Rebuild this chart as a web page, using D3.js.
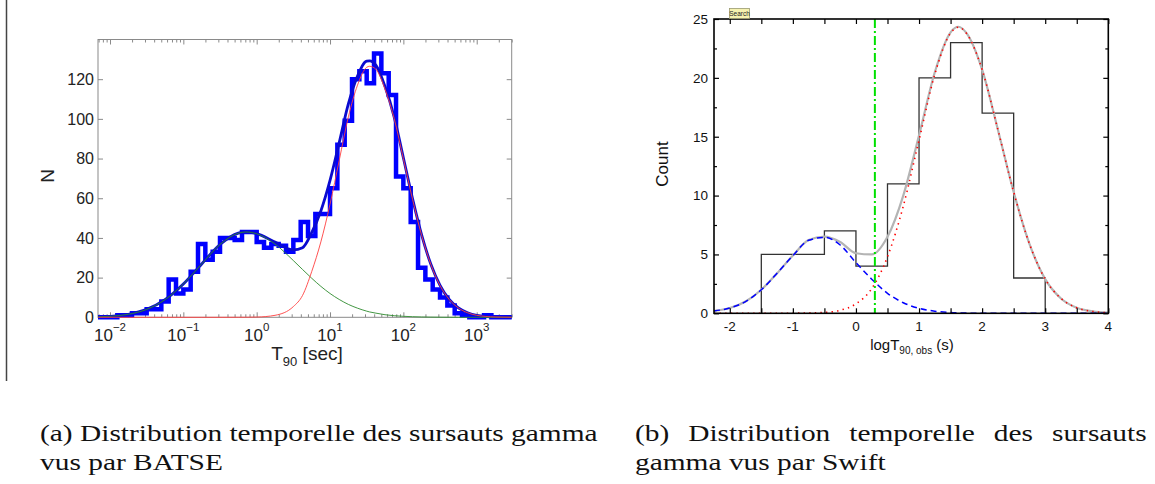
<!DOCTYPE html>
<html><head><meta charset="utf-8">
<script src="https://cdn.jsdelivr.net/npm/d3@7"></script>
<style>body{margin:0;background:#fff}svg{display:block}</style>
</head><body>
<script>
// ---------------- DATA ----------------
// (a) BATSE: histogram in log10(T90) bins of 0.1 dex (lower edges) and counts
const batseLogBins = [-2.2,-2.1,-2.0,-1.9,-1.8,-1.7,-1.6,-1.5,-1.4,-1.3,-1.2,-1.1,-1.0,-0.9,-0.8,-0.7,-0.6,-0.5,-0.4,-0.3,-0.2,-0.1,0.0,0.1,0.2,0.3,0.4,0.5,0.6,0.7,0.8,0.9,1.0,1.1,1.2,1.3,1.4,1.5,1.6,1.7,1.8,1.9,2.0,2.1,2.2,2.3,2.4,2.5,2.6,2.7,2.8,2.9,3.0,3.1,3.2,3.3,3.4];
const batseCounts  = [0,0,0,1,1,2,2,4,4,8,19,12,14,23,37,29,33,40,40,39,43,43,38,35,37,36,33,39,48,41,52,52,65,87,99,120,124,118,133,123,112,71,65,48,25,19,14,10,6,2,1,0,0,1,0,0,0];
// fitted curves, x = log10(T90)
const batseFitLog  = [-2.16,-2.0,-1.75,-1.5,-1.25,-1.0,-0.75,-0.5,-0.25,-0.15,0,0.25,0.5,0.625,0.75,0.875,1.0,1.125,1.25,1.375,1.5,1.54,1.625,1.75,1.875,2.0,2.125,2.25,2.375,2.5,2.625,2.75,2.875,3.0,3.25,3.48];
const batseShort   = [0.24,0.5,1.5,4.0,8.9,16.8,26.9,36.7,42.4,43.0,42.1,36.9,28.6,24.1,19.7,15.6,12.0,9.0,6.5,4.6,3.1,2.7,2.1,1.3,0.8,0.5,0.3,0.17,0.1,0.05,0.02,0,0,0,0,0];
const batseLong    = [0,0,0,0,0,0,0,0,0.02,0.03,0.12,1.0,5.4,11.0,23.0,38.0,57.0,79.0,101.0,117.0,126.0,126.5,125.0,115.0,100.1,79.9,59.5,41.2,26.6,16.0,9.0,4.7,2.3,1.0,0.17,0.02];
const batseTotal   = [0.24,0.5,1.5,4.0,8.9,16.8,26.9,36.7,42.4,43.0,42.2,37.9,34.0,35.1,42.7,53.6,69.0,88.0,107.5,121.6,129.1,129.2,127.1,116.3,100.9,80.4,59.8,41.4,26.7,16.1,9.0,4.7,2.3,1.0,0.17,0.02];
const batseXExponents = [-2,-1,0,1,2,3];
const batseYTicks = [0,20,40,60,80,100,120];

// (b) Swift: histogram of log T90,obs
const swiftBinEdges = [-1.5,-1,-0.5,0,0.5,1,1.5,2,2.5,3];
const swiftCounts   = [5,5,7,4,11,20,23,17,3];
const swiftFitX     = [-2.25,-2,-1.75,-1.5,-1.25,-1,-0.75,-0.5,-0.25,0,0.25,0.5,0.75,1,1.25,1.5,1.625,1.75,2,2.25,2.5,2.75,3,3.25,3.5,3.75,4];
const swiftShort    = [0.2,0.45,1.0,2.0,3.4,4.9,6.2,6.45,5.8,4.3,2.9,1.7,0.9,0.42,0.18,0.07,0.04,0.02,0,0,0,0,0,0,0,0,0];
const swiftLong     = [0,0,0,0,0,0.01,0.03,0.07,0.26,0.8,2.1,4.8,9.1,14.7,20.3,23.8,24.3,23.8,20.7,15.6,10.3,5.9,2.9,1.26,0.47,0.16,0.05];
const swiftTotal    = [0.2,0.45,1.0,2.0,3.4,4.91,6.23,6.52,6.06,5.1,5.0,6.5,10.0,15.12,20.48,23.87,24.34,23.82,20.7,15.6,10.3,5.9,2.9,1.26,0.47,0.16,0.05];
const swiftDivider  = [0.3];
const swiftXTicks   = [-2,-1,0,1,2,3,4];
const swiftYTicks   = [0,5,10,15,20,25];

const captionA = ["(a) Distribution temporelle des sursauts gamma", "vus par BATSE"];
const captionB = ["(b) Distribution temporelle des sursauts", "gamma vus par Swift"];

// ---------------- DRAW ----------------
const W = 1155, H = 484;
const svg = d3.select("body").append("svg").attr("width", W).attr("height", H);
const SANS = "'Liberation Sans', Arial, Helvetica, sans-serif";

// left margin rule
svg.append("line").attr("x1",6.5).attr("x2",6.5).attr("y1",0).attr("y2",381)
  .attr("stroke","#444").attr("stroke-width",1.5);

// ===== Chart (a) =====
const A = {l:98, r:511.7, t:39.5, b:317.3};
const xA = d3.scaleLog().domain([0.006862, 3000]).range([A.l, A.r]);
const yA = d3.scaleLinear().domain([0,140]).range([A.b, A.t]);
const gA = svg.append("g");
svg.append("defs").append("clipPath").attr("id","clipA").append("rect")
  .attr("x",A.l).attr("y",A.t-10).attr("width",A.r-A.l).attr("height",A.b-A.t+16);

const axisCol = "#8a8a8a";
gA.append("rect").attr("x",A.l).attr("y",A.t).attr("width",A.r-A.l).attr("height",A.b-A.t)
  .attr("fill","none").attr("stroke",axisCol).attr("stroke-width",1);

const majorsA = batseXExponents.map(e => Math.pow(10,e));
const minorsA = xA.ticks().filter(v => Math.abs(Math.log10(v) - Math.round(Math.log10(v))) > 1e-6);
function styleAxis(g){ g.select(".domain").remove(); g.selectAll("line").attr("stroke",axisCol); g.selectAll("text").remove(); }
gA.append("g").attr("transform",`translate(0,${A.b})`).call(d3.axisBottom(xA).tickValues(majorsA).tickSize(-5)).call(styleAxis);
gA.append("g").attr("transform",`translate(0,${A.b})`).call(d3.axisBottom(xA).tickValues(minorsA).tickSize(-3)).call(styleAxis);
gA.append("g").attr("transform",`translate(0,${A.t})`).call(d3.axisTop(xA).tickValues(majorsA).tickSize(-5)).call(styleAxis);
gA.append("g").attr("transform",`translate(0,${A.t})`).call(d3.axisTop(xA).tickValues(minorsA).tickSize(-3)).call(styleAxis);
gA.append("g").attr("transform",`translate(${A.l},0)`).call(d3.axisLeft(yA).tickValues(batseYTicks).tickSize(-5)).call(styleAxis);
gA.append("g").attr("transform",`translate(${A.r},0)`).call(d3.axisRight(yA).tickValues(batseYTicks).tickSize(-5)).call(styleAxis);

// y tick labels
gA.append("g").selectAll("text").data(batseYTicks).join("text")
  .attr("x", A.l-4).attr("y", d => yA(d)).attr("dy","0.36em").attr("text-anchor","end")
  .attr("font-family",SANS).attr("font-size",16).attr("fill","#222").text(d => d);
// x tick labels with superscripts
const xl = gA.append("g").selectAll("text").data(batseXExponents).join("text")
  .attr("x", d => xA(Math.pow(10,d))).attr("y", 340.5).attr("text-anchor","middle")
  .attr("font-family",SANS).attr("fill","#222");
xl.append("tspan").attr("font-size",17).text("10");
xl.append("tspan").attr("font-size",11.5).attr("dy",-10).text(d => d < 0 ? "\u2212" + Math.abs(d) : String(d));
// axis titles
const tA = gA.append("text").attr("x",307).attr("y",360).attr("text-anchor","middle")
  .attr("font-family",SANS).attr("font-size",19).attr("fill","#222");
tA.append("tspan").text("T");
tA.append("tspan").attr("font-size",13).attr("dy",6).text("90");
tA.append("tspan").attr("dy",-6).text(" [sec]");
gA.append("text").attr("transform","translate(54,176) rotate(-90)").attr("text-anchor","middle")
  .attr("font-family",SANS).attr("font-size",19).attr("fill","#222").text("N");

// histogram (step outline)
const histA = batseLogBins.map((e,i) => [e, batseCounts[i]]);
histA.push([batseLogBins[batseLogBins.length-1] + (batseLogBins[1]-batseLogBins[0]), batseCounts[batseCounts.length-1]]);
const pA = gA.append("g").attr("clip-path","url(#clipA)");
pA.append("path").datum(histA)
  .attr("d", d3.line().x(d => xA(Math.pow(10,d[0]))).y(d => yA(d[1])).curve(d3.curveStepAfter))
  .attr("fill","none").attr("stroke","#0000ff").attr("stroke-width",4.5).attr("stroke-linejoin","miter");
const lineA = d3.line().x(d => xA(Math.pow(10,d[0]))).y(d => yA(d[1])).curve(d3.curveMonotoneX);
pA.append("path").datum(batseFitLog.map((x,i)=>[x,batseTotal[i]])).attr("d",lineA)
  .attr("fill","none").attr("stroke","#0a0ad0").attr("stroke-width",2.8);
pA.append("path").datum(batseFitLog.map((x,i)=>[x,batseShort[i]])).attr("d",lineA)
  .attr("fill","none").attr("stroke","#2e8b2e").attr("stroke-width",0.9);
pA.append("path").datum(batseFitLog.map((x,i)=>[x,batseLong[i]])).attr("d",lineA)
  .attr("fill","none").attr("stroke","#ff4040").attr("stroke-width",0.9);

// ===== Chart (b) =====
const B = {l:714, r:1108.3, t:19, b:313.3};
const xB = d3.scaleLinear().domain([-2.25,4]).range([B.l,B.r]);
const yB = d3.scaleLinear().domain([0,25]).range([B.b,B.t]);
const gB = svg.append("g");
svg.select("defs").append("clipPath").attr("id","clipB").append("rect")
  .attr("x",B.l).attr("y",B.t).attr("width",B.r-B.l).attr("height",B.b-B.t);

const pB = gB.append("g").attr("clip-path","url(#clipB)");
// histogram outline
const histB = swiftCounts.map((c,i)=>[swiftBinEdges[i], c]);
histB.unshift([swiftBinEdges[0], 0]);
histB.push([swiftBinEdges[swiftBinEdges.length-1], 0]);
pB.append("path").datum(histB)
  .attr("d", d3.line().x(d=>xB(d[0])).y(d=>yB(d[1])).curve(d3.curveStepAfter))
  .attr("fill","none").attr("stroke","#333").attr("stroke-width",1.3);
const lineB = d3.line().x(d=>xB(d[0])).y(d=>yB(d[1])).curve(d3.curveMonotoneX);
pB.append("path").datum(swiftFitX.map((x,i)=>[x,swiftTotal[i]])).attr("d",lineB)
  .attr("fill","none").attr("stroke","#b4b4b4").attr("stroke-width",2.2);
pB.append("path").datum(swiftFitX.map((x,i)=>[x,swiftShort[i]])).attr("d",lineB)
  .attr("fill","none").attr("stroke","#0000ff").attr("stroke-width",1.5).attr("stroke-dasharray","6,4");
pB.append("path").datum(swiftFitX.map((x,i)=>[x,swiftLong[i]])).attr("d",lineB)
  .attr("fill","none").attr("stroke","#ff0000").attr("stroke-width",1.6).attr("stroke-dasharray","1.4,4.2");
pB.selectAll("line.div").data(swiftDivider).join("line").attr("class","div")
  .attr("x1",d=>xB(d)).attr("x2",d=>xB(d)).attr("y1",B.t).attr("y2",B.b)
  .attr("stroke","#00e000").attr("stroke-width",2).attr("stroke-dasharray","9,3,2,3");

// frame & ticks
const xMinorB = d3.range(-2, 4.01, 0.5);
const yMinorB = d3.range(0, 25.01, 2.5);
function styleB(g){ g.select(".domain").remove(); g.selectAll("line").attr("stroke","#000").attr("stroke-width",1.2); g.selectAll("text").remove(); }
gB.append("g").attr("transform",`translate(0,${B.b})`).call(d3.axisBottom(xB).tickValues(xMinorB).tickSize(-5)).call(styleB);
gB.append("g").attr("transform",`translate(0,${B.t})`).call(d3.axisTop(xB).tickValues(xMinorB).tickSize(-5)).call(styleB);
gB.append("g").attr("transform",`translate(${B.l},0)`).call(d3.axisLeft(yB).tickValues(yMinorB.filter(v=>v%5!==0)).tickSize(-3)).call(styleB);
gB.append("g").attr("transform",`translate(${B.l},0)`).call(d3.axisLeft(yB).tickValues(swiftYTicks).tickSize(-5)).call(styleB);
gB.append("g").attr("transform",`translate(${B.r},0)`).call(d3.axisRight(yB).tickValues(yMinorB.filter(v=>v%5!==0)).tickSize(-3)).call(styleB);
gB.append("g").attr("transform",`translate(${B.r},0)`).call(d3.axisRight(yB).tickValues(swiftYTicks).tickSize(-5)).call(styleB);
gB.append("rect").attr("x",B.l).attr("y",B.t).attr("width",B.r-B.l).attr("height",B.b-B.t)
  .attr("fill","none").attr("stroke","#000").attr("stroke-width",1.6);

gB.append("g").selectAll("text").data(swiftYTicks).join("text")
  .attr("x",B.l-6).attr("y",d=>yB(d)).attr("dy","0.36em").attr("text-anchor","end")
  .attr("font-family",SANS).attr("font-size",13.5).attr("fill","#111").text(d=>d);
gB.append("g").selectAll("text").data(swiftXTicks).join("text")
  .attr("x",d=>xB(d)).attr("y",331).attr("text-anchor","middle")
  .attr("font-family",SANS).attr("font-size",13.5).attr("fill","#111").text(d=>d);
const tB = gB.append("text").attr("x",912).attr("y",350).attr("text-anchor","middle")
  .attr("font-family",SANS).attr("font-size",15).attr("fill","#111");
tB.append("tspan").text("logT");
tB.append("tspan").attr("font-size",10).attr("dy",4).text("90, obs");
tB.append("tspan").attr("dy",-4).text(" (s)");
gB.append("text").attr("transform","translate(668,164) rotate(-90)").attr("text-anchor","middle")
  .attr("font-family",SANS).attr("font-size",17).attr("fill","#111").text("Count");

// "Search" tag
gB.append("rect").attr("x",729.5).attr("y",8.5).attr("width",20).attr("height",10)
  .attr("fill","#f6f2b0").attr("stroke","#9a9a70").attr("stroke-width",0.8);
gB.append("text").attr("x",739.5).attr("y",16.3).attr("text-anchor","middle")
  .attr("font-family",SANS).attr("font-size",6.5).attr("fill","#222").text("Search");

// ===== Captions: glyphs widened by a common factor (set so caption (a) line 1 spans 558px);
// caption (b) line 1 is additionally justified to 512px by word spacing =====
const SERIF = "'Liberation Serif', 'Times New Roman', serif";
function capText(t, x, y){
  return svg.append("text").attr("x",0).attr("y",0)
    .attr("transform",`translate(${x},${y})`)
    .attr("font-family",SERIF).attr("font-size",24).attr("fill","#111").text(t);
}
const a1 = capText(captionA[0], 40, 441);
const sx = 558 / a1.node().getComputedTextLength();
a1.attr("transform",`translate(40,441) scale(${sx},1)`);
capText(captionA[1], 40, 470).attr("transform",`translate(40,470) scale(${sx},1)`);
const b1 = capText(captionB[0], 635, 441);
const natB = b1.node().getComputedTextLength();
const gapsB = captionB[0].split(" ").length - 1;
b1.attr("word-spacing", ((512/sx - natB)/gapsB).toFixed(2))
  .attr("transform",`translate(635,441) scale(${sx},1)`);
capText(captionB[1], 635, 470).attr("transform",`translate(635,470) scale(${sx},1)`);
</script>
</body></html>
